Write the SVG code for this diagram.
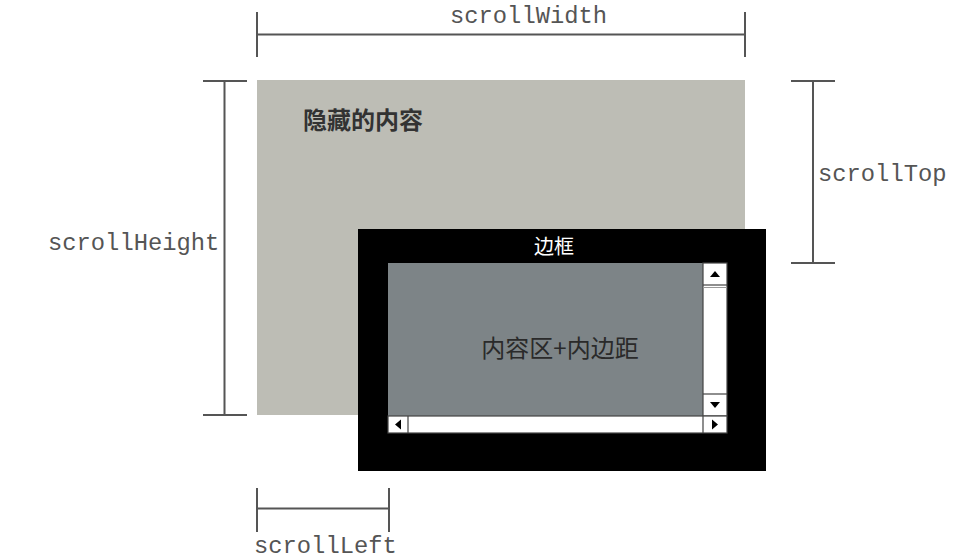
<svg xmlns="http://www.w3.org/2000/svg" width="960" height="560" viewBox="0 0 960 560">
<style>
.dim{stroke:#555;stroke-width:2;fill:none}
.mono{font-family:"Liberation Mono","DejaVu Sans Mono",monospace;font-size:23.8px;fill:#555}
.cjk{font-family:"Noto Sans CJK SC","Noto Sans",sans-serif}
.sb{fill:#fff;stroke:#444;stroke-width:1.2}
.arr{fill:#000}
</style>
<rect width="960" height="560" fill="#fff"/>
<g id="hidden-content">
<rect x="257" y="80" width="488" height="335" fill="#bdbdb5"/>
<text class="cjk" x="303" y="129" font-size="24" font-weight="bold" fill="#333">隐藏的内容</text>
</g>
<g id="border-box">
<rect x="358" y="229" width="408" height="242" fill="#000"/>
<text class="cjk" x="554" y="254" font-size="20" fill="#fff" text-anchor="middle">边框</text>
</g>
<g id="content-area">
<rect x="388" y="263" width="315" height="153" fill="#7d8487"/>
<text class="cjk" x="560" y="357" font-size="24" fill="#2a2a2a" text-anchor="middle">内容区+内边距</text>
</g>
<g id="v-scrollbar">
<rect class="sb" x="703" y="263" width="24" height="153"/>
<line x1="703" y1="285" x2="727" y2="285" stroke="#444" stroke-width="1.2"/>
<line x1="703" y1="287.5" x2="727" y2="287.5" stroke="#999" stroke-width="1"/>
<line x1="703" y1="394" x2="727" y2="394" stroke="#444" stroke-width="1.2"/>
<polygon class="arr" points="710,277 720,277 715,271"/>
<polygon class="arr" points="710,402 720,402 715,408"/>
</g>
<g id="h-scrollbar">
<rect class="sb" x="388" y="416" width="339" height="17"/>
<line x1="408" y1="416" x2="408" y2="433" stroke="#444" stroke-width="1.2"/>
<line x1="703" y1="416" x2="703" y2="433" stroke="#444" stroke-width="1.2"/>
<polygon class="arr" points="401,419.5 401,429.5 395,424.5"/>
<polygon class="arr" points="712,419.5 712,429.5 718,424.5"/>
</g>
<g id="dimensions">
<g id="scrollWidth">
<line class="dim" x1="257" y1="12" x2="257" y2="57"/>
<line class="dim" x1="745" y1="12" x2="745" y2="57"/>
<line class="dim" x1="257" y1="34.5" x2="745" y2="34.5"/>
<text class="mono" x="450" y="23">scrollWidth</text>
</g>
<g id="scrollHeight">
<line class="dim" x1="203" y1="81" x2="247" y2="81"/>
<line class="dim" x1="203" y1="415" x2="247" y2="415"/>
<line class="dim" x1="224.5" y1="81" x2="224.5" y2="415"/>
<text class="mono" x="48" y="250">scrollHeight</text>
</g>
<g id="scrollTop">
<line class="dim" x1="791" y1="81" x2="835" y2="81"/>
<line class="dim" x1="791" y1="263" x2="835" y2="263"/>
<line class="dim" x1="813" y1="81" x2="813" y2="263"/>
<text class="mono" x="818" y="181">scrollTop</text>
</g>
<g id="scrollLeft">
<line class="dim" x1="257" y1="488" x2="257" y2="532"/>
<line class="dim" x1="389" y1="488" x2="389" y2="532"/>
<line class="dim" x1="257" y1="508.5" x2="389" y2="508.5"/>
<text class="mono" x="254" y="553">scrollLeft</text>
</g>
</g>
</svg>
